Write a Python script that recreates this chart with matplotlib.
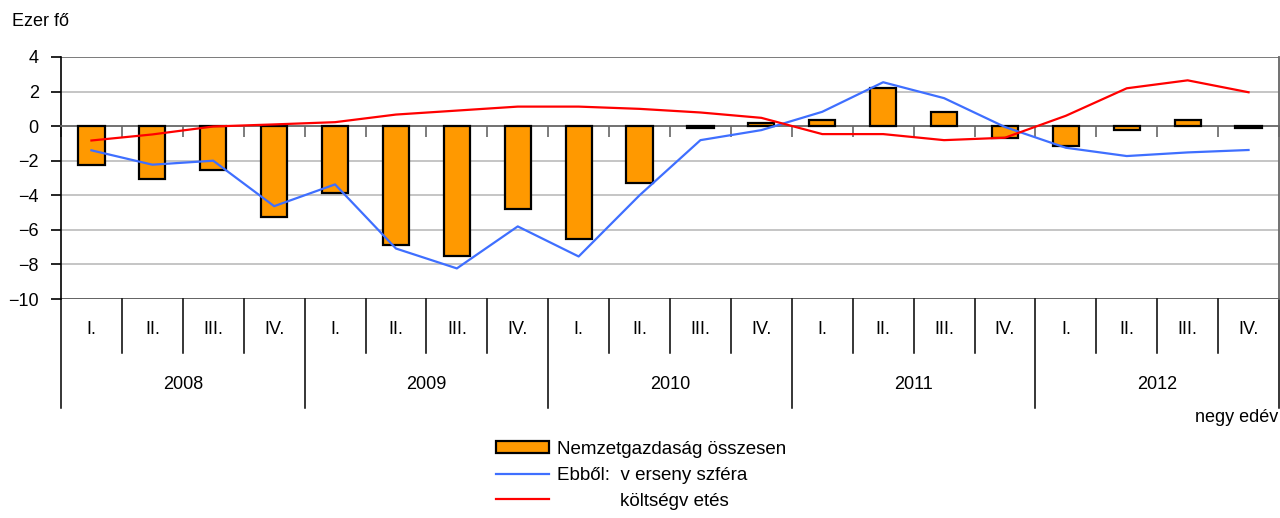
import matplotlib
matplotlib.use("Agg")
import matplotlib.pyplot as plt
import matplotlib.transforms as mtransforms
from matplotlib.patches import Patch
from matplotlib.lines import Line2D
import numpy as np

plt.rcParams['font.family'] = ['Liberation Sans', 'DejaVu Sans']

# quarterly change, thousand persons
years = ["2008", "2009", "2010", "2011", "2012"]
quarters = ["I.", "II.", "III.", "IV."]
total = [-2.23, -3.04, -2.56, -5.23, -3.85, -6.85, -7.54, -4.77, -6.5, -3.27,
         -0.1, 0.2, 0.35, 2.2, 0.83, -0.7, -1.17, -0.25, 0.35, -0.12]
business = [-1.4, -2.23, -2.0, -4.63, -3.37, -7.08, -8.23, -5.8, -7.54, -4.0,
            -0.81, -0.23, 0.83, 2.54, 1.62, -0.05, -1.25, -1.73, -1.52, -1.38]
budget = [-0.83, -0.48, -0.02, 0.1, 0.23, 0.67, 0.9, 1.13, 1.13, 1.0,
          0.79, 0.48, -0.46, -0.46, -0.81, -0.67, 0.6, 2.19, 2.65, 1.96]

labels = ["Nemzetgazdaság összesen", "Ebből:  v erseny szféra",
          "            költségv etés"]

fs = 13
fig = plt.figure(figsize=(12.8, 5.18), dpi=100)
ax = fig.add_axes([61 / 1280, 1 - 299 / 518, 1218 / 1280, 242 / 518])

x = np.arange(len(total))
ax.bar(x, total, width=0.43, color="#FF9900", edgecolor="black", linewidth=1.6, zorder=3)
ax.plot(x, business, color="#3F6FFF", lw=1.6, zorder=4)
ax.plot(x, budget, color="#FF0000", lw=1.6, zorder=4)

ax.set_xlim(-0.5, len(total) - 0.5)
ax.set_ylim(-10, 4)
ax.set_yticks(range(-10, 5, 2))
for yv in range(-8, 5, 2):
    if yv != 0:
        ax.axhline(yv, color="#c0c0c0", lw=1.3, zorder=1)
ax.axhline(-10, color="#555555", lw=1.3, zorder=2)
ax.axhline(4, color="#777777", lw=1.3, zorder=2)

ax.spines["left"].set_color("black")
ax.spines["left"].set_linewidth(1.2)
ax.spines["right"].set_visible(False)
ax.spines["top"].set_visible(False)
ax.spines["bottom"].set_position(("data", 0))
ax.spines["bottom"].set_color("#666666")
ax.spines["bottom"].set_linewidth(1.3)
ax.set_xticks(np.arange(-0.5, len(total), 1.0))
ax.set_xticklabels([])
ax.tick_params(axis="x", direction="out", length=8, width=1.2, color="#666666")
ax.tick_params(axis="y", direction="out", length=7, width=1.2, pad=9, labelsize=fs)

# category table under the plot
trans = mtransforms.blended_transform_factory(ax.transData, ax.transAxes)
n = len(total)
for k in range(n + 1):
    b = k - 0.5
    if k % 4 == 0:
        ax.plot([b, b], [0, -0.45], transform=trans, color="black", lw=1.1, clip_on=False)
    else:
        ax.plot([b, b], [0, -0.225], transform=trans, color="black", lw=1.1, clip_on=False)
ax.plot([n - 0.5, n - 0.5], [1, 0], transform=trans, color="#666666", lw=1.3, clip_on=False)
for i in range(n):
    ax.text(i, -0.128, quarters[i % 4], transform=trans, ha="center", va="center", fontsize=fs)
for j, yr in enumerate(years):
    ax.text(4 * j + 1.5, -0.355, yr, transform=trans, ha="center", va="center", fontsize=fs)

fig.text(1278 / 1280, 1 - 417 / 518, "negy edév", ha="right", va="center", fontsize=fs)
fig.text(12 / 1280, 1 - 22 / 518, "Ezer fő", ha="left", va="center", fontsize=fs)

handles = [Patch(facecolor="#FF9900", edgecolor="black", linewidth=1.6),
           Line2D([0], [0], color="#3F6FFF", lw=1.6),
           Line2D([0], [0], color="#FF0000", lw=1.6)]
fig.legend(handles, labels, loc="upper left", bbox_to_anchor=(496 / 1280, 1 - 441 / 518),
           frameon=False, fontsize=13.5, handlelength=2.8, handleheight=0.6,
           handletextpad=0.45, labelspacing=0.47, borderpad=0, borderaxespad=0)

fig.savefig("out.png", dpi=100)
